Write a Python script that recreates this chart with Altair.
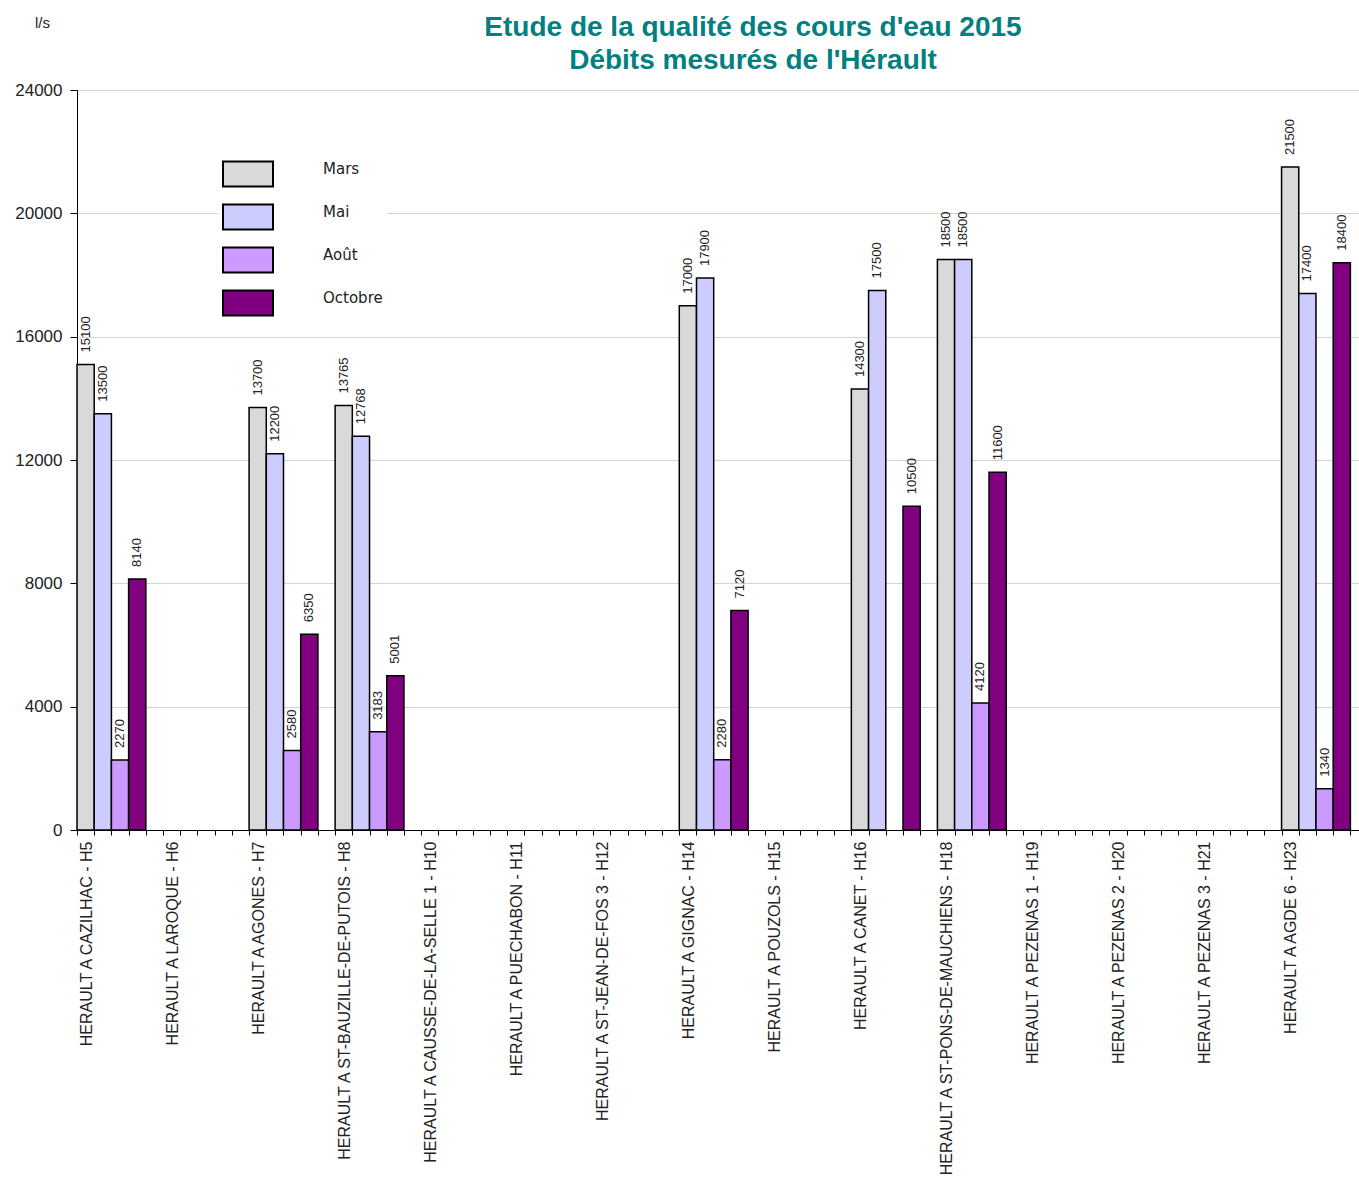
import altair as alt
import pandas as pd

stations = [
    "HERAULT A CAZILHAC - H5",
    "HERAULT A LAROQUE - H6",
    "HERAULT A AGONES - H7",
    "HERAULT A ST-BAUZILLE-DE-PUTOIS - H8",
    "HERAULT A CAUSSE-DE-LA-SELLE 1 - H10",
    "HERAULT A PUECHABON - H11",
    "HERAULT A ST-JEAN-DE-FOS 3 - H12",
    "HERAULT A GIGNAC - H14",
    "HERAULT A POUZOLS - H15",
    "HERAULT A CANET - H16",
    "HERAULT A ST-PONS-DE-MAUCHIENS - H18",
    "HERAULT A PEZENAS 1 - H19",
    "HERAULT A PEZENAS 2 - H20",
    "HERAULT A PEZENAS 3 - H21",
    "HERAULT A AGDE 6 - H23",
]
series = ["Mars", "Mai", "Août", "Octobre"]
mars = [15100, None, 13700, 13765, None, None, None, 17000, None, 14300, 18500, None, None, None, 21500]
mai = [13500, None, 12200, 12768, None, None, None, 17900, None, 17500, 18500, None, None, None, 17400]
aout = [2270, None, 2580, 3183, None, None, None, 2280, None, None, 4120, None, None, None, 1340]
octobre = [8140, None, 6350, 5001, None, None, None, 7120, None, 10500, 11600, None, None, None, 18400]
colors = ["#d9d9d9", "#ccccff", "#cc99ff", "#800080"]
y_ticks = [0, 4000, 8000, 12000, 16000, 20000, 24000]

SLOTS = 5  # 4 bars + 1 gap per station
rows = []
for si, (name, vals) in enumerate(zip(series, [mars, mai, aout, octobre])):
    for ci, v in enumerate(vals):
        if v is None:
            continue
        s = ci * SLOTS + si
        rows.append({"station": stations[ci], "serie": name, "value": v,
                     "slot": s, "slot_end": s + 1, "mid": s + 0.5})
df = pd.DataFrame(rows)

n_slots = len(stations) * SLOTS
names_js = "[" + ",".join("'" + s.replace("'", "\\'") + "'" for s in stations) + "]"
label_expr = (f"datum.value % {SLOTS} == 0 && datum.value < {n_slots} ? "
              f"{names_js}[datum.value / {SLOTS}] : ''")

# the last group runs slightly past the right edge of the picture
x_scale = alt.Scale(domain=[0, n_slots - 0.5], nice=False, zero=False)
y_scale = alt.Scale(domain=[0, 24000], nice=False)

x_axis = alt.Axis(
    values=list(range(n_slots)), labelExpr=label_expr, labelAngle=270,
    labelAlign="right", labelBaseline="middle", labelOffset=9, labelPadding=6,
    tickSize=5, tickColor="black", domainColor="black", grid=False, title=None,
    labelOverlap=False, labelBound=False, labelFlush=False, labelLimit=600,
    labelFont="Liberation Sans", labelFontSize=16, labelColor="#222")
y_axis = alt.Axis(
    values=y_ticks, format="d", tickSize=7, tickColor="black", domainColor="black",
    gridColor="#d4d4d4", labelFont="Liberation Sans", labelFontSize=17,
    labelColor="#222", labelPadding=8, title="l/s", titleAngle=0, titleX=-35,
    titleY=-68, titleAlign="center", titleBaseline="middle",
    titleFontWeight="normal", titleFontSize=15, titleFont="Liberation Sans",
    titleColor="#222")

bars = alt.Chart(df).mark_bar(stroke="black", strokeWidth=1.5).encode(
    x=alt.X("slot:Q", scale=x_scale, axis=x_axis),
    x2="slot_end:Q",
    y=alt.Y("value:Q", scale=y_scale, axis=y_axis),
    y2=alt.datum(0),
    color=alt.Color("serie:N", scale=alt.Scale(domain=series, range=colors),
                    sort=series,
                    legend=alt.Legend(
                        title=None, orient="none", legendX=141, legendY=54,
                        symbolType="M-1,-0.5H1V0.5H-1Z", symbolSize=2500,
                        symbolStrokeColor="black", symbolStrokeWidth=2,
                        symbolOpacity=1,
                        labelFont="DejaVu Sans", labelFontSize=15, labelColor="#222",
                        labelBaseline="alphabetic",
                        labelOffset=49, rowPadding=-3, fillColor="white",
                        padding=4)),
)

labels = alt.Chart(df).mark_text(
    angle=270, align="left", baseline="middle", dx=12,
    font="Liberation Sans", fontSize=13, color="#222"
).encode(
    x=alt.X("mid:Q", scale=x_scale, axis=x_axis),
    y=alt.Y("value:Q", scale=y_scale, axis=y_axis),
    text=alt.Text("value:Q", format="d"),
)

chart = alt.layer(bars, labels).properties(
    width=1282, height=740,
    autosize=alt.AutoSizeParams(type="none"),
    padding={"left": 77, "top": 90, "right": 0, "bottom": 351},
    title=alt.TitleParams(
        ["Etude de la qualité des cours d'eau 2015", "Débits mesurés de l'Hérault"],
        font="Liberation Sans", fontSize=28, fontWeight="bold", color="#008080",
        anchor="middle", dx=35, offset=0, dy=60, lineHeight=33),
).configure_view(strokeWidth=0)

chart.save("out.html", embed_options={"renderer": "svg", "actions": False})
